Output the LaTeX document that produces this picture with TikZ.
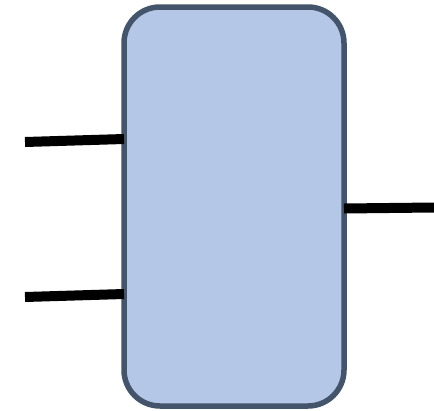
\documentclass[tikz,border=0pt]{standalone}
\usepackage{tikz}
\usetikzlibrary{positioning}
\definecolor{blockfill}{HTML}{B4C7E7}
\definecolor{blockline}{HTML}{44546A}
\tikzset{
    block/.style={draw=blockline, fill=blockfill, line width=5.5pt, rounded corners=36pt,
                  minimum width=220pt, minimum height=399pt, outer sep=0pt, inner sep=0pt},
    wire/.style={black, line width=10pt},
}

\begin{document}
\begin{tikzpicture}[x=1pt,y=-1pt]
    \useasboundingbox (0,0) rectangle (434,410);

    % The block.
    \node [block] (blk) at (234,206.5) {};

    % Free ends of the wires.
    \coordinate (in1) at (25,142);
    \coordinate (in2) at (25,297);
    \coordinate (out) at (434,207.5);

    % Wires.
    \draw [wire] (in1) -- ([yshift=3pt]in1 -| blk.west);
    \draw [wire] (in2) -- ([yshift=3pt]in2 -| blk.west);
    \draw [wire] ([yshift=-1pt]out -| blk.east) -- (out);
\end{tikzpicture}
\end{document}
